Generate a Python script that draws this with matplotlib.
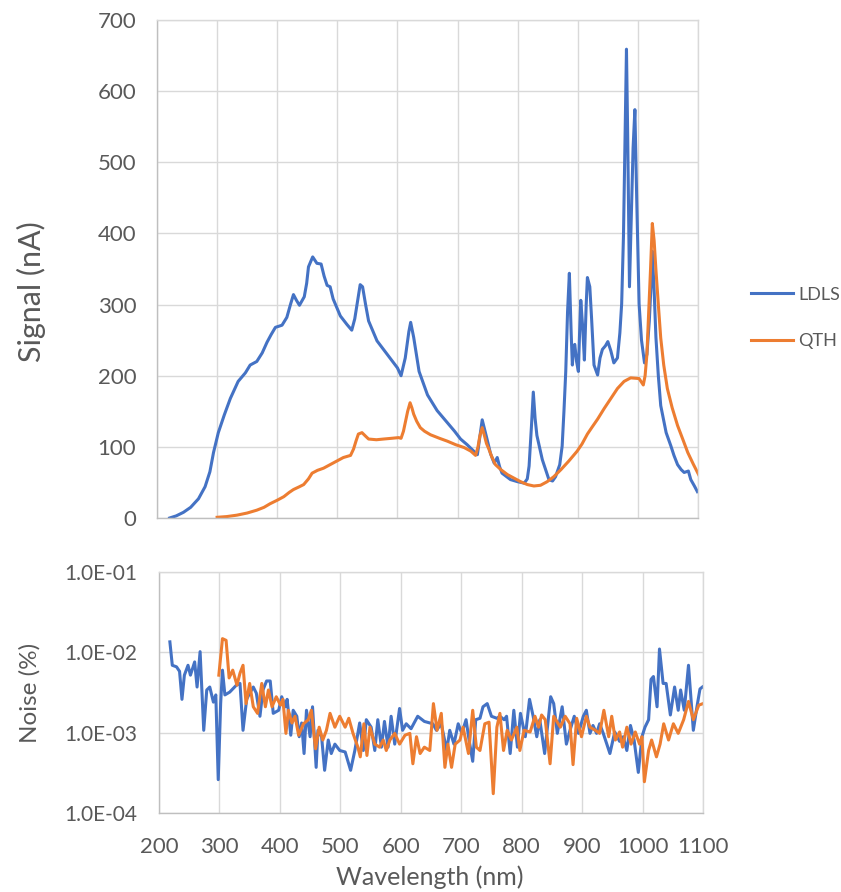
import numpy as np
import matplotlib
matplotlib.use('Agg')
import matplotlib.pyplot as plt
from matplotlib.ticker import FixedLocator, FuncFormatter, NullLocator

plt.rcParams['font.family'] = ['Lato', 'DejaVu Sans']

# signal spectra (nA) vs wavelength (nm)
ldls_wl = [221, 232, 244, 256, 269, 280, 288, 294, 302, 312, 322, 335, 347, 355, 366, 375, 383, 390, 397,
           408, 416, 422, 427, 432, 437, 445, 449, 452, 459, 466, 473, 478, 483, 488, 493, 505, 516, 524,
           529, 533, 538, 542, 547, 552, 566, 583, 600, 606, 613, 619, 622, 627, 636, 650, 666, 683, 695,
           705, 716, 727, 733, 741, 749, 755, 761, 766, 770, 774, 788, 800, 811, 816, 819, 823, 826, 829,
           832, 841, 852, 858, 863, 870, 874, 877, 880, 883, 886, 889, 891, 893, 895, 898, 901, 903, 905,
           908, 911, 914, 916, 920, 923, 927, 933, 937, 941, 946, 950, 955, 960, 966, 970, 973, 976, 979,
           981, 983, 986, 989, 992, 995, 998, 1002, 1006, 1011, 1015, 1019, 1022, 1024, 1027, 1030, 1034,
           1038, 1047, 1055, 1060, 1066, 1072, 1077, 1084, 1088, 1094, 1099]
ldls_sig = [0, 3, 8, 15, 27, 44, 65, 92, 120, 145, 168, 192, 204, 215, 220, 232, 247, 258, 268,
            271, 282, 300, 314, 306, 299, 311, 330, 353, 367, 358, 357, 340, 327, 325, 308, 284, 272, 264,
            280, 301, 328, 325, 300, 277, 249, 230, 211, 200, 225, 262, 275, 254, 206, 173, 151, 134, 122,
            111, 103, 94, 89, 138, 111, 90, 77, 85, 72, 63, 54, 51, 49, 55, 73, 130, 177, 140,
            116, 82, 54, 52, 58, 75, 101, 150, 206, 290, 344, 260, 215, 240, 244, 220, 206, 260, 306,
            270, 222, 300, 338, 325, 280, 215, 201, 225, 237, 242, 248, 235, 218, 225, 260, 301, 396, 550,
            659, 540, 325, 420, 520, 574, 450, 301, 250, 218, 230, 277, 330, 375, 320, 254, 200,
            158, 120, 101, 88, 75, 68, 64, 66, 54, 45, 37]

qth_wl = [300, 316, 333, 350, 366, 378, 388, 400, 411, 420, 427, 437, 444, 452, 458, 467, 477, 488, 499,
          510, 522, 527, 531, 535, 541, 547, 552, 565, 577, 590, 602, 606, 610, 613, 617, 621, 624, 627,
          632, 638, 645, 655, 670, 683, 697, 711, 722, 730, 734, 737, 741, 745, 748, 752, 757, 763, 772,
          783, 794, 805, 816, 827, 838, 849, 860, 872, 885, 899, 907, 916, 924, 933, 944, 955, 966, 977,
          988, 1002, 1009, 1012, 1015, 1018, 1021, 1024, 1027, 1030, 1034, 1038, 1043, 1049, 1057, 1066,
          1075, 1083, 1092, 1101]
qth_sig = [1, 2, 4, 7, 11, 15, 20, 25, 30, 36, 40, 44, 47, 55, 63, 67, 70, 75, 80,
           85, 88, 97, 108, 118, 120, 115, 111, 110, 111, 112, 113, 112, 122, 134, 150, 162, 155, 146,
           136, 127, 122, 117, 112, 108, 103, 99, 94, 88, 100, 115, 127, 115, 105, 97, 86, 75, 68,
           61, 56, 51, 47, 45, 46, 51, 58, 68, 80, 94, 104, 118, 128, 139, 154, 168, 182, 192,
           197, 196, 187, 200, 230, 290, 349, 414, 390, 349, 300, 253, 215, 182, 155, 130,
           110, 92, 76, 61]

# noise (%) vs wavelength (nm)
ldls_noise_wl = [218, 222, 229, 234, 238, 242, 248, 252, 259, 263, 268, 274, 279, 284, 290, 294, 298, 302,
                 305, 309, 317, 328, 334, 339, 345, 350, 356, 361, 367, 372, 378, 384, 389, 398, 403, 409,
                 412, 418, 422, 428, 432, 436, 440, 444, 450, 454, 460, 463, 469, 474, 480, 485, 491, 499,
                 508, 517, 524, 532, 538, 543, 551, 557, 562, 568, 573, 579, 584, 590, 598, 603, 609, 617,
                 628, 639, 653, 659, 667, 676, 681, 688, 695, 701, 708, 713, 719, 724, 731, 736, 743, 750,
                 759, 764, 771, 775, 781, 787, 793, 798, 806, 813, 819, 825, 830, 838, 848, 853, 859, 867,
                 874, 880, 887, 894, 902, 907, 913, 918, 924, 929, 935, 946, 954, 962, 968, 974, 980, 986,
                 993, 999, 1004, 1010, 1014, 1018, 1024, 1028, 1034, 1039, 1046, 1053, 1059, 1063, 1069,
                 1076, 1084, 1090, 1095, 1099]
ldls_noise = [1.35e-2, 6.9e-3, 6.6e-3, 5.8e-3, 2.6e-3, 5.2e-3, 6.9e-3, 5.2e-3, 7.6e-3, 3.7e-3, 1.02e-2,
              1.07e-3, 3.4e-3, 3.7e-3, 2.4e-3, 2.95e-3, 2.6e-4, 2.3e-3, 6.0e-3, 2.95e-3, 3.2e-3, 3.9e-3,
              4.1e-3, 1.07e-3, 2.6e-3, 3.1e-3, 3.7e-3, 3.1e-3, 1.6e-3, 3.4e-3, 4.4e-3, 4.4e-3, 1.74e-3,
              1.9e-3, 2.8e-3, 2.1e-3, 2.6e-3, 9.3e-4, 1.9e-3, 1.6e-3, 8.9e-4, 1.32e-3, 5.5e-4, 1.9e-3,
              8.9e-4, 2.1e-3, 3.7e-4, 1.07e-3, 8.9e-4, 3.4e-4, 8.1e-4, 5.5e-4, 7.2e-4, 6.0e-4, 5.75e-4,
              3.4e-4, 6.0e-4, 1.32e-3, 6.0e-4, 1.45e-3, 1.17e-3, 6.0e-4, 1.45e-3, 6.6e-4, 1.38e-3,
              6.6e-4, 1.6e-3, 7.2e-4, 2.0e-3, 1.07e-3, 1.29e-3, 1.12e-3, 1.6e-3, 1.38e-3, 1.29e-3,
              1.07e-3, 1.29e-3, 6.0e-4, 1.07e-3, 7.2e-4, 1.29e-3, 9.8e-4, 1.45e-3, 8.1e-4, 4.4e-4,
              1.45e-3, 1.51e-3, 2.1e-3, 2.3e-3, 1.6e-3, 1.51e-3, 1.6e-3, 1.45e-3, 1.6e-3, 5.5e-4, 1.9e-3,
              6.6e-4, 1.74e-3, 8.9e-4, 2.6e-3, 1.6e-3, 8.9e-4, 1.45e-3, 5.5e-4, 2.8e-3, 2.3e-3, 9.8e-4,
              2.1e-3, 7.2e-4, 1.07e-3, 1.6e-3, 9.8e-4, 1.6e-3, 1.9e-3, 9.8e-4, 1.23e-3, 9.8e-4, 1.29e-3,
              9.8e-4, 5.5e-4, 1.02e-3, 7.8e-4, 8.9e-4, 6.0e-4, 1.23e-3, 8.1e-4, 3.2e-4, 8.9e-4, 1.17e-3,
              1.45e-3, 4.6e-3, 5.0e-3, 2.1e-3, 1.1e-2, 4.1e-3, 4.1e-3, 1.66e-3, 3.7e-3, 1.9e-3, 3.4e-3,
              1.9e-3, 6.9e-3, 1.07e-3, 2.1e-3, 3.5e-3, 3.7e-3]

qth_noise_wl = [299, 305, 311, 316, 322, 329, 334, 339, 344, 350, 356, 363, 370, 376, 381, 387, 394, 401,
                405, 410, 414, 420, 425, 431, 439, 447, 452, 459, 465, 471, 477, 483, 491, 499, 508, 514,
                521, 529, 533, 539, 544, 549, 557, 565, 571, 576, 582, 590, 598, 607, 615, 620, 626, 632,
                639, 648, 654, 660, 667, 673, 678, 684, 690, 698, 703, 712, 719, 725, 731, 739, 746, 753,
                759, 764, 770, 776, 783, 792, 797, 804, 814, 822, 828, 833, 839, 847, 853, 864, 872, 880,
                885, 891, 899, 907, 913, 922, 929, 936, 944, 949, 955, 962, 967, 974, 981, 988, 995, 999,
                1003, 1010, 1015, 1023, 1029, 1035, 1043, 1051, 1059, 1068, 1076, 1084, 1093, 1100]
qth_noise = [5.2e-3, 1.48e-2, 1.41e-2, 4.8e-3, 6.0e-3, 3.9e-3, 5.5e-3, 6.9e-3, 2.3e-3, 4.1e-3, 2.1e-3,
             1.74e-3, 4.1e-3, 2.1e-3, 3.4e-3, 2.1e-3, 2.8e-3, 2.2e-3, 2.6e-3, 9.8e-4, 1.9e-3, 1.32e-3,
             1.6e-3, 9.3e-4, 1.29e-3, 1.45e-3, 1.9e-3, 6.3e-4, 1.17e-3, 8.1e-4, 1.07e-3, 1.74e-3, 1.17e-3,
             1.6e-3, 1.17e-3, 1.51e-3, 9.8e-4, 6.6e-4, 5.0e-4, 1.29e-3, 5.2e-4, 1.17e-3, 7.2e-4, 6.6e-4,
             8.1e-4, 6.0e-4, 8.1e-4, 9.8e-4, 7.2e-4, 9.3e-4, 9.8e-4, 4.1e-4, 8.9e-4, 5.5e-4, 6.6e-4,
             6.0e-4, 2.3e-3, 1.07e-3, 1.74e-3, 3.7e-4, 7.2e-4, 3.7e-4, 7.2e-4, 8.1e-4, 1.17e-3, 5.5e-4,
             1.9e-3, 6.6e-4, 6.0e-4, 1.29e-3, 1.35e-3, 1.74e-4, 1.17e-3, 1.74e-3, 6.0e-4, 1.07e-3, 8.1e-4,
             1.17e-3, 6.0e-4, 1.07e-3, 1.02e-3, 1.6e-3, 1.17e-3, 1.66e-3, 1.45e-3, 4.1e-4, 1.6e-3, 1.17e-3,
             1.6e-3, 1.29e-3, 4.0e-4, 1.51e-3, 8.9e-4, 1.6e-3, 1.17e-3, 1.07e-3, 9.8e-4, 1.9e-3, 8.9e-4,
             1.6e-3, 8.1e-4, 1.02e-3, 6.6e-4, 1.17e-3, 7.2e-4, 1.02e-3, 7.2e-4, 8.9e-4, 2.45e-4, 6.0e-4,
             8.1e-4, 5.0e-4, 7.2e-4, 1.29e-3, 8.1e-4, 1.29e-3, 9.8e-4, 1.45e-3, 2.45e-3, 1.45e-3, 2.2e-3,
             2.3e-3]

x_ticks = [200, 300, 400, 500, 600, 700, 800, 900, 1000, 1100]
signal_ticks = [0, 100, 200, 300, 400, 500, 600, 700]
noise_ticks = [1e-4, 1e-3, 1e-2, 1e-1]

BLUE = '#4472C4'
ORANGE = '#ED7D31'
GRID = '#d9d9d9'
TEXT = '#595959'

W, H = 841, 892
fig = plt.figure(figsize=(W / 100, H / 100), dpi=100)

def px_axes(l, t, r, b):
    return fig.add_axes([l / W, 1 - b / H, (r - l) / W, (b - t) / H])

def style(ax):
    ax.grid(True, color=GRID, lw=1.0)
    ax.set_axisbelow(True)
    for s in ax.spines.values():
        s.set_color(GRID)
        s.set_linewidth(1.0)
    ax.spines['left'].set_color('#bfbfbf')
    ax.spines['bottom'].set_color('#bfbfbf')
    ax.set_xlim(200, 1100)
    ax.xaxis.set_major_locator(FixedLocator(x_ticks))

# top: signal
ax1 = px_axes(157, 20, 698, 518)
style(ax1)
ax1.plot(ldls_wl, ldls_sig, color=BLUE, lw=2.2, label='LDLS')
ax1.plot(qth_wl, qth_sig, color=ORANGE, lw=2.2, label='QTH')
ax1.set_ylim(0, 700)
ax1.yaxis.set_major_locator(FixedLocator(signal_ticks))
ax1.tick_params(axis='x', length=0, labelbottom=False)
ax1.tick_params(axis='y', length=0, pad=15, labelsize=16, labelcolor=TEXT)

# bottom: noise
ax2 = px_axes(159, 572, 703, 813)
style(ax2)
ax2.plot(ldls_noise_wl, ldls_noise, color=BLUE, lw=2.2)
ax2.plot(qth_noise_wl, qth_noise, color=ORANGE, lw=2.2)
ax2.set_yscale('log')
ax2.set_ylim(1e-4, 1e-1)
ax2.yaxis.set_major_locator(FixedLocator(noise_ticks))
ax2.yaxis.set_minor_locator(NullLocator())
ax2.yaxis.set_major_formatter(FuncFormatter(lambda v, p: f'{v:.1E}'))
ax2.tick_params(axis='x', length=0, pad=17, labelsize=16, labelcolor=TEXT)
ax2.tick_params(axis='y', length=0, pad=16, labelsize=15, labelcolor=TEXT)

fig.text(31 / W, 1 - 292 / H, 'Signal (nA)', rotation=90, ha='center', va='center',
         fontsize=22, color=TEXT)
fig.text(30 / W, 1 - 693 / H, 'Noise (%)', rotation=90, ha='center', va='center',
         fontsize=17.5, color=TEXT)
fig.text(430 / W, 1 - 877 / H, 'Wavelength (nm)', ha='center', va='center',
         fontsize=18, color=TEXT)

fig.legend(loc='center left', bbox_to_anchor=(751 / W, 1 - 318 / H), frameon=False,
           borderpad=0, borderaxespad=0, handlelength=2.3, handletextpad=0.3,
           labelspacing=1.7, fontsize=13, labelcolor=TEXT)

fig.savefig('out.png', dpi=100, facecolor='white')
